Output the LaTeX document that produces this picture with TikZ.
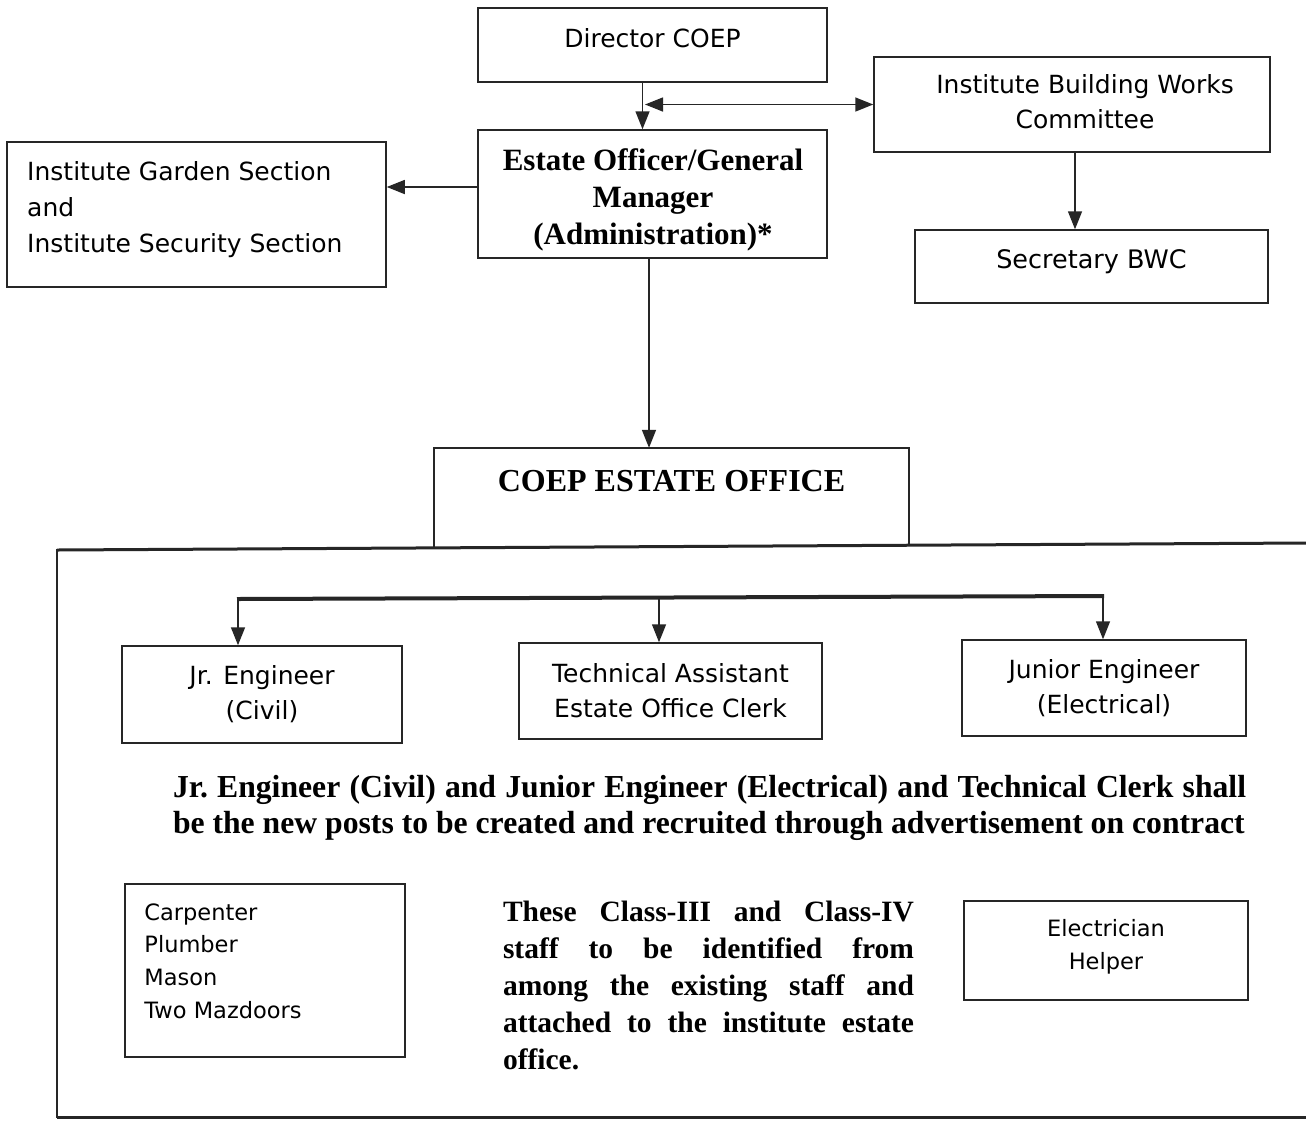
\documentclass[tikz,border=0pt]{standalone}
\usepackage{fontspec}
\setmainfont{Liberation Serif}
\newfontfamily\sansf{DejaVu Sans}
\newfontfamily\condb[FakeStretch=0.99]{Liberation Serif}
\usetikzlibrary{arrows.meta}
\tikzset{
  box/.style={draw=black!85, line width=1.5pt, inner sep=0pt, font=\sansf\fontsize{25}{35}\selectfont, align=center},
  sbox/.style={box, font=\sansf\fontsize{22.5}{33}\selectfont},
  arr/.style={draw=black!85, line width=1.5pt, -{Triangle[length=18pt,width=14pt]}},
  darr/.style={draw=black!85, line width=1.5pt, {Triangle[length=18pt,width=14pt]}-{Triangle[length=18pt,width=14pt]}},
  btext/.style={font=\bfseries\fontsize{29.5}{37}\selectfont, inner sep=0pt}
}
\begin{document}
\begin{tikzpicture}[x=1pt,y=-1pt]
\useasboundingbox (0,0) rectangle (1306,1120);
\fill[white] (0,0) rectangle (1306,1120);
% top boxes
\node[box, minimum width=349pt, minimum height=74pt, text depth=14pt] (dir) at (652.5,45) {Director COEP};
\node[box, minimum width=396pt, minimum height=95pt] (ibwc) at (1072,104.5) {};
\node[inner sep=0pt, font=\sansf\fontsize{25}{35}\selectfont, align=center] (ibwct) at (1085,101.5) {Institute Building Works\\Committee};
\node[box, minimum width=349pt, minimum height=128pt] (est) at (652.5,194) {};
\node[inner sep=0pt, align=center, font=\bfseries\fontsize{31}{37}\selectfont] (estt) at (653,200) {Estate Officer/General\\Manager\\(Administration)*};
\node[box, minimum width=379pt, minimum height=145pt] (gar) at (196.5,214.5) {};
\node[inner sep=0pt, align=left, anchor=west, font=\sansf\fontsize{25}{36}\selectfont] (gart) at (27,210) {Institute Garden Section\\and\\Institute Security Section};
\node[box, minimum width=353pt, minimum height=73pt] (sec) at (1091.5,266.5) {};
\node[inner sep=0pt, font=\sansf\fontsize{25.5}{35}\selectfont] (sect) at (1091.5,262) {Secretary BWC};
% estate office title box
\draw[draw=black!85, line width=1.5pt] (434,547) -- (434,448) -- (909,448) -- (909,546);
\node[inner sep=0pt, minimum width=475pt, minimum height=98pt] (off) at (671.5,497) {};
\node[inner sep=0pt, font=\bfseries\fontsize{32}{37}\selectfont] (offt) at (671.5,481) {COEP ESTATE OFFICE};
% big frame
\draw[draw=black!85, line width=3pt] (1306,543) -- (57,550);
\draw[draw=black!85, line width=2pt] (57,549) -- (57,1118);
\draw[draw=black!85, line width=3pt] (57,1117) -- (1306,1117);
% connectors top
\draw[arr] ([xshift=-10pt]dir.south) -- ([xshift=-10pt]est.north);
\coordinate (dj) at (645,104.5);
\draw[darr] (dj) -- (ibwc.west);
\draw[arr] ([xshift=3pt]ibwc.south) coordinate (c1) -- (c1 |- sec.north);
\draw[arr] ([yshift=7pt]est.west) coordinate (c2) -- (c2 -| gar.east);
\draw[arr] ([xshift=-3.5pt]est.south) coordinate (c3) -- (c3 |- off.north);
% lower boxes
\node[box, minimum width=280pt, minimum height=97pt] (jrc) at (262,694.5) {Jr. Engineer\\(Civil)};
\node[box, minimum width=303pt, minimum height=96pt] (tech) at (670.5,691) {Technical Assistant\\Estate Office Clerk};
\node[box, minimum width=284pt, minimum height=96pt] (jre) at (1104,688) {Junior Engineer\\(Electrical)};
% bus
\coordinate (bl) at (238,599);
\coordinate (bm) at (659,598);
\coordinate (br) at (1103,596);
\draw[draw=black!85, line width=4pt] ([xshift=-1pt]bl) -- ([xshift=1pt]br);
\draw[arr] (bl) -- (bl |- jrc.north);
\draw[arr] (bm) -- (bm |- tech.north);
\draw[arr] (br) -- (br |- jre.north);
% bold paragraph
\node[inner sep=0pt, text width=1073pt, align=justify, font=\condb\bfseries\fontsize{32}{36}\selectfont] (note) at (709.5,808) {\frenchspacing Jr. Engineer (Civil) and Junior Engineer (Electrical) and Technical Clerk shall\linebreak be the new posts to be created and recruited through advertisement on contract\hspace{0pt plus 0.02fil}};
% bottom boxes
\node[sbox, minimum width=280pt, minimum height=173pt] (trd) at (265,970.5) {};
\node[inner sep=0pt, anchor=north west, align=left, font=\sansf\fontsize{22.5}{32.7}\selectfont] (trdt) at ([xshift=20pt,yshift=-20pt]trd.north west) {Carpenter\\Plumber\\Mason\\Two Mazdoors};
\node[sbox, minimum width=284pt, minimum height=99pt] (ele) at (1106,950.5) {};
\node[inner sep=0pt, align=center, font=\sansf\fontsize{22.5}{33}\selectfont] (elet) at (1106,947) {Electrician\\Helper};
\node[btext, text width=411pt, align=justify] (cls) at (708.5,985.5) {These Class-III and Class-IV\linebreak staff to be identified from\linebreak among the existing staff and\linebreak attached to the institute estate\linebreak office.};
\end{tikzpicture}
\end{document}
